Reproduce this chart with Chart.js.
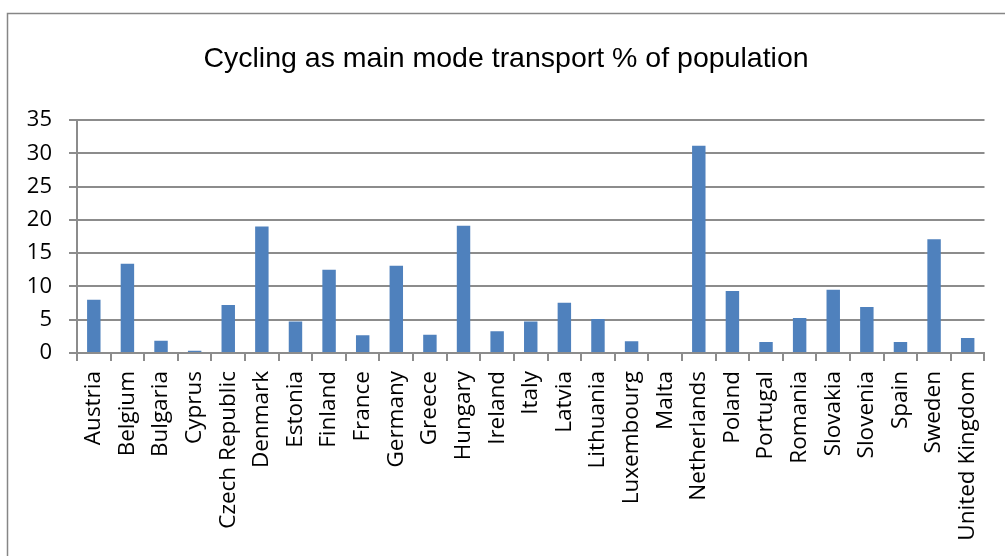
<!DOCTYPE html>
<html>
<head>
<meta charset="utf-8">
<script src="https://cdn.jsdelivr.net/npm/chart.js@4"></script>
<style>
  html, body { margin: 0; padding: 0; background: #ffffff; }
  #wrap { width: 1005px; height: 556px; position: relative; }
</style>
</head>
<body>
<div id="wrap"><canvas id="c" width="1005" height="556"></canvas></div>
<script>
const titleText = "Cycling as main mode transport % of population";
const countries = ["Austria","Belgium","Bulgaria","Cyprus","Czech Republic","Denmark","Estonia","Finland","France","Germany","Greece","Hungary","Ireland","Italy","Latvia","Lithuania","Luxembourg","Malta","Netherlands","Poland","Portugal","Romania","Slovakia","Slovenia","Spain","Sweden","United Kingdom"];
const cyclingShare = [8.0,13.4,1.85,0.35,7.2,19.0,4.75,12.5,2.65,13.1,2.75,19.1,3.25,4.75,7.55,5.1,1.75,0,31.15,9.3,1.65,5.25,9.5,6.9,1.65,17.1,2.25];
const yMin = 0, yMax = 35, yStep = 5;

const gridColor = '#8c8c8c';

const framePlugin = {
  id: 'frame',
  beforeDraw(chart) {
    const ctx = chart.ctx;
    ctx.save();
    ctx.fillStyle = '#ffffff';
    ctx.fillRect(0, 0, chart.width, chart.height);
    ctx.strokeStyle = '#868686';
    ctx.lineWidth = 1.5;
    ctx.beginPath();
    ctx.moveTo(7.5, chart.height);
    ctx.lineTo(7.5, 13.5);
    ctx.lineTo(chart.width, 13.5);
    ctx.stroke();
    ctx.restore();
  }
};

new Chart(document.getElementById('c'), {
  type: 'bar',
  data: {
    labels: countries,
    datasets: [{
      data: cyclingShare,
      backgroundColor: '#4f81bd',
      borderWidth: 0,
      barPercentage: 0.4,
      categoryPercentage: 1.0
    }]
  },
  options: {
    responsive: false,
    devicePixelRatio: 1,
    animation: false,
    layout: { padding: { left: 24, right: 17, top: 0, bottom: 0 } },
    plugins: {
      legend: { display: false },
      tooltip: { enabled: false },
      title: {
        display: true,
        text: titleText,
        color: '#000000',
        font: { family: '"Liberation Sans", Arial, sans-serif', size: 28.5, weight: 'normal' },
        padding: { top: 42, bottom: 43.8 }
      }
    },
    scales: {
      x: {
        offset: true,
        grid: { display: true, drawOnChartArea: false, drawTicks: true, tickLength: 8, color: gridColor, lineWidth: 2, offset: true },
        border: { display: true, color: gridColor, width: 2 },
        ticks: {
          autoSkip: false, minRotation: 90, maxRotation: 90, padding: 10,
          color: '#000000',
          font: { family: '"Open Sans", sans-serif', size: 22.5 }
        },
        afterFit(scale) { scale.height = 203; }
      },
      y: {
        min: yMin, max: yMax,
        grid: { color: gridColor, lineWidth: 2, tickLength: 8, drawTicks: true },
        border: { display: true, color: gridColor, width: 2 },
        ticks: {
          stepSize: yStep, padding: 17,
          color: '#000000',
          font: { family: '"Open Sans", sans-serif', size: 22 }
        },
        afterFit(scale) { scale.width = 53; }
      }
    }
  },
  plugins: [framePlugin]
});
</script>
</body>
</html>
